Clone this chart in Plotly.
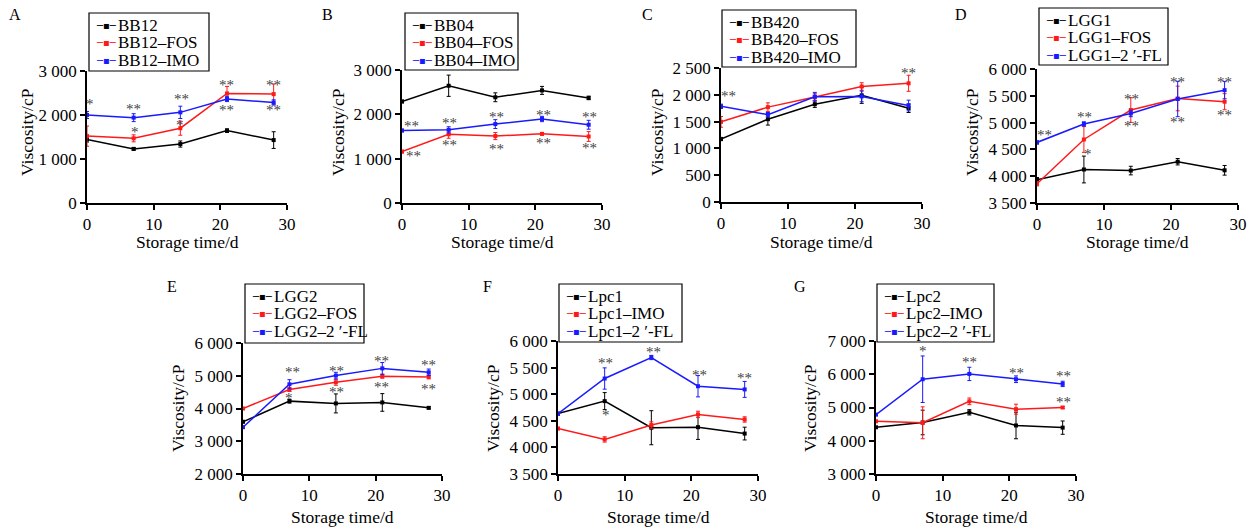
import plotly.graph_objects as go

W, H = 1253, 527
days = [0, 7, 14, 21, 28]

# ---------------- data ----------------
a_names = ["BB12", "BB12–FOS", "BB12–IMO"]
a_vals = [[1445, 1230, 1340, 1645, 1430],
          [1520, 1470, 1700, 2490, 2475],
          [2000, 1940, 2060, 2365, 2285]]
a_errs = [[60, 30, 70, 40, 190],
          [230, 80, 160, 160, 230],
          [80, 90, 140, 60, 60]]
a_stars = [(0.5, 2300, "*"), (6.9, 2187, "**"), (7.15, 1655, "*"), (14.15, 2415, "**"),
           (13.9, 1807, "*"), (20.9, 2718, "**"), (20.9, 2149, "**"), (27.9, 2718, "**"),
           (27.9, 2149, "**")]

b_names = ["BB04", "BB04–FOS", "BB04–IMO"]
b_vals = [[2290, 2645, 2385, 2540, 2370],
          [1160, 1550, 1510, 1560, 1500],
          [1635, 1650, 1780, 1895, 1765]]
b_errs = [[30, 240, 100, 90, 40],
          [30, 90, 80, 30, 110],
          [30, 70, 100, 60, 100]]
b_stars = [(1.4, 1784, "**"), (1.65, 1104, "**"), (7.15, 1859, "**"), (7.15, 1345, "**"),
           (14.15, 1988, "**"), (14.15, 1270, "**"), (21.15, 2026, "**"), (21.15, 1406, "**"),
           (28.15, 1988, "**"), (28.15, 1293, "**")]

c_names = ["BB420", "BB420–FOS", "BB420–IMO"]
c_vals = [[1175, 1545, 1825, 1990, 1750],
          [1495, 1770, 1960, 2155, 2215],
          [1785, 1630, 1965, 1970, 1800]]
c_errs = [[30, 110, 60, 150, 80],
          [100, 80, 60, 70, 150],
          [40, 40, 80, 100, 100]]
c_stars = [(1.15, 2015, "**"), (28.0, 2438, "**")]

d_names = ["LGG1", "LGG1–FOS", "LGG1–2 ′-FL"]
d_vals = [[3935, 4125, 4105, 4270, 4110],
          [3860, 4685, 5235, 5450, 5390],
          [4630, 4975, 5170, 5440, 5605]]
d_errs = [[40, 250, 80, 60, 90],
          [40, 240, 230, 230, 150],
          [30, 40, 60, 330, 160]]
d_stars = [(1.15, 4813, "**"), (7.1, 5144, "**"), (7.6, 4456, "*"), (14.1, 5475, "**"),
           (14.1, 4975, "**"), (21.0, 5800, "**"), (21.0, 5050, "**"), (28.0, 5800, "**"),
           (28.0, 5175, "**")]

e_names = ["LGG2", "LGG2–FOS", "LGG2–2 ′-FL"]
e_vals = [[3595, 4225, 4155, 4185, 4020],
          [4000, 4580, 4800, 4985, 4965],
          [3430, 4740, 5005, 5225, 5105]]
e_errs = [[30, 60, 290, 270, 30],
          [30, 60, 90, 60, 60],
          [30, 140, 100, 180, 100]]
e_stars = [(7.5, 5168, "**"), (7.0, 4376, "*"), (14.1, 5218, "**"), (14.1, 4579, "**"),
           (20.85, 5523, "**"), (20.85, 4711, "**"), (27.9, 5391, "**"), (27.9, 4660, "**")]

f_names = ["Lpc1", "Lpc1–IMO", "Lpc1–2 ′-FL"]
f_vals = [[4635, 4870, 4370, 4380, 4260],
          [4355, 4150, 4420, 4620, 4525],
          [4635, 5295, 5690, 5150, 5090]]
f_errs = [[20, 160, 320, 230, 120],
          [20, 50, 60, 60, 50],
          [20, 200, 40, 200, 150]]
f_stars = [(7.15, 5617, "**"), (7.15, 4656, "*"), (14.25, 5837, "**"), (21.25, 5397, "**"),
           (28.0, 5347, "**")]

g_names = ["Lpc2", "Lpc2–IMO", "Lpc2–2 ′-FL"]
g_vals = [[4405, 4550, 4855, 4460, 4395],
          [4585, 4540, 5185, 4950, 5000],
          [4785, 5850, 6010, 5850, 5710]]
g_errs = [[20, 370, 80, 400, 200],
          [20, 480, 100, 150, 30],
          [20, 700, 200, 100, 80]]
g_stars = [(7.05, 6759, "*"), (14.05, 6437, "**"), (21.05, 6106, "**"), (28.05, 6015, "**"),
           (28.05, 5231, "**")]

x_title = "Storage time/d"
y_title = "Viscosity/cP"

# ---------------- layout spec (pixel boxes) ----------------
panels = [
    dict(label="A", names=a_names, vals=a_vals, errs=a_errs, stars=a_stars,
         box=(87, 287, 71, 203), yr=(0, 3000), dt=1000, lab=(15, 15),
         leg=(89, 13, 209, 71), ytx=27, yty=132, xty=242),
    dict(label="B", names=b_names, vals=b_vals, errs=b_errs, stars=b_stars,
         box=(402, 602, 70, 203), yr=(0, 3000), dt=1000, lab=(327, 15),
         leg=(405, 13, 518, 70), ytx=338, yty=132, xty=242),
    dict(label="C", names=c_names, vals=c_vals, errs=c_errs, stars=c_stars,
         box=(721, 922, 68, 202), yr=(0, 2500), dt=500, lab=(647, 15),
         leg=(722, 10, 856, 67), ytx=657, yty=132, xty=242),
    dict(label="D", names=d_names, vals=d_vals, errs=d_errs, stars=d_stars,
         box=(1037, 1238, 69, 203), yr=(3500, 6000), dt=500, lab=(961, 15),
         leg=(1039, 8, 1168, 65), ytx=972, yty=132, xty=242),
    dict(label="E", names=e_names, vals=e_vals, errs=e_errs, stars=e_stars,
         box=(243, 442, 343, 474), yr=(2000, 6000), dt=1000, lab=(172, 286),
         leg=(245, 284, 364, 343), ytx=178, yty=408, xty=517),
    dict(label="F", names=f_names, vals=f_vals, errs=f_errs, stars=f_stars,
         box=(558, 758, 341, 474), yr=(3500, 6000), dt=500, lab=(487, 286),
         leg=(559, 284, 682, 342), ytx=493, yty=408, xty=517),
    dict(label="G", names=g_names, vals=g_vals, errs=g_errs, stars=g_stars,
         box=(876, 1076, 341, 474), yr=(3000, 7000), dt=1000, lab=(800, 286),
         leg=(877, 284, 994, 342), ytx=810, yty=408, xty=517),
]

colors = ["#000000", "#ff1a1a", "#1a1aff"]
FONT = "Liberation Serif"

fig = go.Figure()
layout = dict(
    width=W, height=H, margin=dict(l=0, r=0, t=0, b=0),
    paper_bgcolor="white", plot_bgcolor="white",
    font=dict(family=FONT, size=16, color="black"),
    separators=". ",
    showlegend=False,
    annotations=[],
    shapes=[],
)

def px(xp, yp):
    return xp / W, 1 - yp / H

for i, p in enumerate(panels):
    n = i + 1
    xa = "x" if n == 1 else f"x{n}"
    ya = "y" if n == 1 else f"y{n}"
    x0, x1, yt, yb = p["box"]
    for k in range(3):
        fig.add_trace(go.Scatter(
            x=days, y=p["vals"][k], name=p["names"][k], mode="lines+markers",
            xaxis=xa, yaxis=ya, cliponaxis=False,
            line=dict(color=colors[k], width=1.5),
            marker=dict(color=colors[k], size=4, symbol="square"),
            error_y=dict(type="data", array=p["errs"][k], color=colors[k], thickness=1, width=2),
        ))
    common = dict(showline=True, linecolor="black", linewidth=1.5, ticks="outside", ticklen=5,
                  tickwidth=1.5, tickcolor="black", showgrid=False, zeroline=False,
                  automargin=False, tickfont=dict(size=17, family=FONT))
    layout["xaxis" if n == 1 else f"xaxis{n}"] = dict(
        domain=[x0 / W, x1 / W], anchor=ya, range=[0, 30], dtick=10, tick0=0, **common)
    layout["yaxis" if n == 1 else f"yaxis{n}"] = dict(
        domain=[1 - yb / H, 1 - yt / H], anchor=xa, range=list(p["yr"]), dtick=p["dt"],
        tick0=p["yr"][0], tickformat=",d", **common)

    # axis titles
    tx, ty = px((x0 + x1) / 2, p["xty"])
    layout["annotations"].append(dict(
        text=x_title, x=tx, y=ty, xref="paper", yref="paper", showarrow=False,
        xanchor="center", yanchor="middle", font=dict(size=17.5)))
    tx, ty = px(p["ytx"], p["yty"])
    layout["annotations"].append(dict(
        text=y_title, x=tx, y=ty, xref="paper", yref="paper", showarrow=False,
        textangle=-90, xanchor="center", yanchor="middle", font=dict(size=17.5)))

    # panel letter
    tx, ty = px(*p["lab"])
    layout["annotations"].append(dict(
        text=p["label"], x=tx, y=ty, xref="paper", yref="paper",
        showarrow=False, xanchor="center", yanchor="middle", font=dict(size=16)))

    # legend box: frame + one entry per series (key glyph + name)
    lx0, ly0, lx1, ly1 = p["leg"]
    bx0, by1 = px(lx0, ly0)
    bx1, by0 = px(lx1, ly1)
    layout["shapes"].append(dict(type="rect", xref="paper", yref="paper",
                                 x0=bx0, x1=bx1, y0=by0, y1=by1,
                                 line=dict(color="black", width=1.2), fillcolor="white",
                                 layer="above"))
    for k in range(3):
        ey = ly0 + 12 + k * 17.5
        tx, ty = px(lx0 + 5, ey)
        layout["annotations"].append(dict(
            text="─▪─", x=tx, y=ty, xref="paper", yref="paper", showarrow=False,
            xanchor="left", yanchor="middle", font=dict(size=10, color=colors[k],
                                                       family="DejaVu Sans")))
        tx, ty = px(lx0 + 27, ey)
        layout["annotations"].append(dict(
            text=p["names"][k], x=tx, y=ty, xref="paper", yref="paper", showarrow=False,
            xanchor="left", yanchor="middle", font=dict(size=17)))

    # significance marks
    for (sx, sy, st) in p["stars"]:
        layout["annotations"].append(dict(
            text=st, x=sx, y=sy, xref=xa, yref=ya, showarrow=False,
            xanchor="center", yanchor="middle", yshift=-2,
            font=dict(size=15, color="#444444")))

fig.update_layout(**layout)
fig.write_html("out.html", config={"displayModeBar": False},
               post_script="document.body.style.margin='0';document.body.style.overflow='hidden';")
